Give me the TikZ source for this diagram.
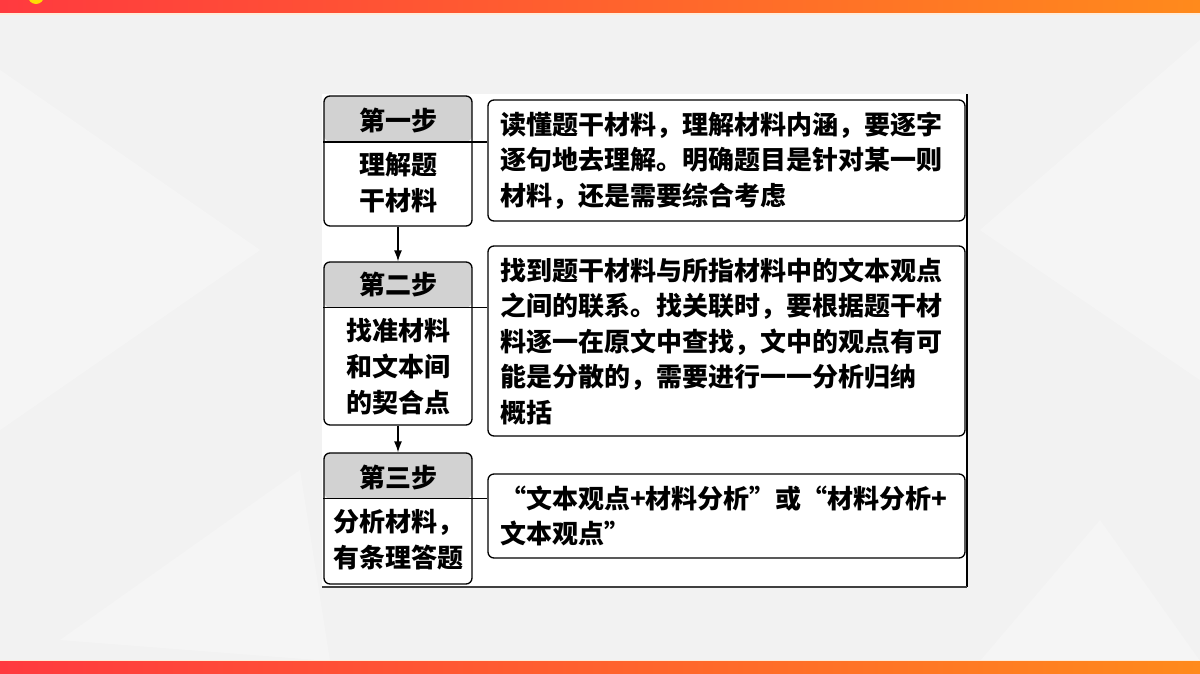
\documentclass[tikz,border=0pt]{standalone}
\usepackage{fontspec}
\setmainfont{Noto Sans CJK SC}
\usetikzlibrary{positioning,arrows.meta}

\definecolor{bgcol}{HTML}{F2F2F2}
\definecolor{barred}{HTML}{FF3A3F}
\definecolor{barmid}{HTML}{FF5A22}
\definecolor{barorange}{HTML}{FF8A1C}
\definecolor{headfill}{HTML}{D2D2D2}

\tikzset{
  stepbox/.style={draw, line width=1.3pt, rounded corners=6pt, minimum width=148pt,
    inner sep=0pt,
    path picture={\fill[headfill] (path picture bounding box.north west)
      rectangle ([yshift=-45.5pt]path picture bounding box.north east);}},
  notebox/.style={draw, line width=1.3pt, rounded corners=6pt, minimum width=477pt,
    text width=453pt, inner xsep=12pt, inner ysep=0pt, align=left,
    font=\fontsize{26}{35.5}\selectfont\bfseries},
  steptext/.style={align=center, inner sep=0pt, font=\fontsize{26}{36}\selectfont\bfseries},
}

\begin{document}
\begin{tikzpicture}[x=1pt,y=-1pt,>={Latex[length=11pt,width=8pt]}]
\useasboundingbox (0,0) rectangle (1200,673);
% background
\fill[bgcol] (0,0) rectangle (1200,673);
\fill[white,opacity=0.3] (0,70) -- (260,250) -- (0,430) -- cycle;
\fill[white,opacity=0.25] (60,640) -- (300,470) -- (330,661) -- cycle;
\fill[white,opacity=0.3] (1200,40) -- (980,230) -- (1200,380) -- cycle;
\fill[white,opacity=0.25] (980,661) -- (1100,520) -- (1200,661) -- cycle;
\shade[left color=barred, right color=barorange] (0,0) rectangle (1200,13);
\fill[yellow!80!orange] (36,-4) circle (8);
\fill[orange!15] (0,13) rectangle (1200,14.5);
\shade[left color=barred, middle color=barmid, right color=barorange] (0,661) rectangle (1200,673);
\fill[orange!15] (0,659.5) rectangle (1200,661);

% panel
\fill[white] (322,94) rectangle (967,587);
\draw[line width=1.3pt] (967,94) -- (967,587);
\draw[black!75, line width=1.2pt] (322,587) -- (967,587);

% step one
\node[stepbox, minimum height=130pt] (box1) at (398,161) {};
\coordinate (d1) at (398,142);
\node[steptext] (h1) at (398,120) {第一步};
\node[steptext] (b1) at (398,183) {理解题\\干材料};
\node[notebox, minimum height=121pt] (r1) at (726.5,160.5)
  {读懂题干材料，理解材料内涵，要逐字\\逐句地去理解。明确题目是针对某一则\\材料，还是需要综合考虑};

% step two
\node[stepbox, minimum height=163pt] (box2) at (398,343.5) {};
\coordinate (d2) at (398,307.5);
\node[steptext] (h2) at (398,284) {第二步};
\node[steptext] (b2) at (398,366.5) {找准材料\\和文本间\\的契合点};
\node[notebox, minimum height=190pt] (r2) at (726.5,341)
  {找到题干材料与所指材料中的文本观点\\之间的联系。找关联时，要根据题干材\\料逐一在原文中查找，文中的观点有可\\能是分散的，需要进行一一分析归纳\\概括};

% step three
\node[stepbox, minimum height=131pt] (box3) at (398,518.5) {};
\coordinate (d3) at (398,498.5);
\node[steptext] (h3) at (398,477) {第三步};
\node[steptext] (b3) at (398,540) {分析材料，\\有条理答题};
\node[notebox, minimum height=84pt] (r3) at (726.5,516)
  {“文本观点+材料分析”或“材料分析+\\文本观点”};

% connectors
\draw[line width=1.3pt] (box1.west |- d1) -- (r1.west |- d1);
\draw[line width=1.3pt] (box2.west |- d2) -- (r2.west |- d2);
\draw[line width=1.3pt] (box3.west |- d3) -- (r3.west |- d3);
\draw[->, line width=1.3pt] (box1) -- (box2);
\draw[->, line width=1.3pt] (box2) -- (box3);
\end{tikzpicture}
\end{document}
